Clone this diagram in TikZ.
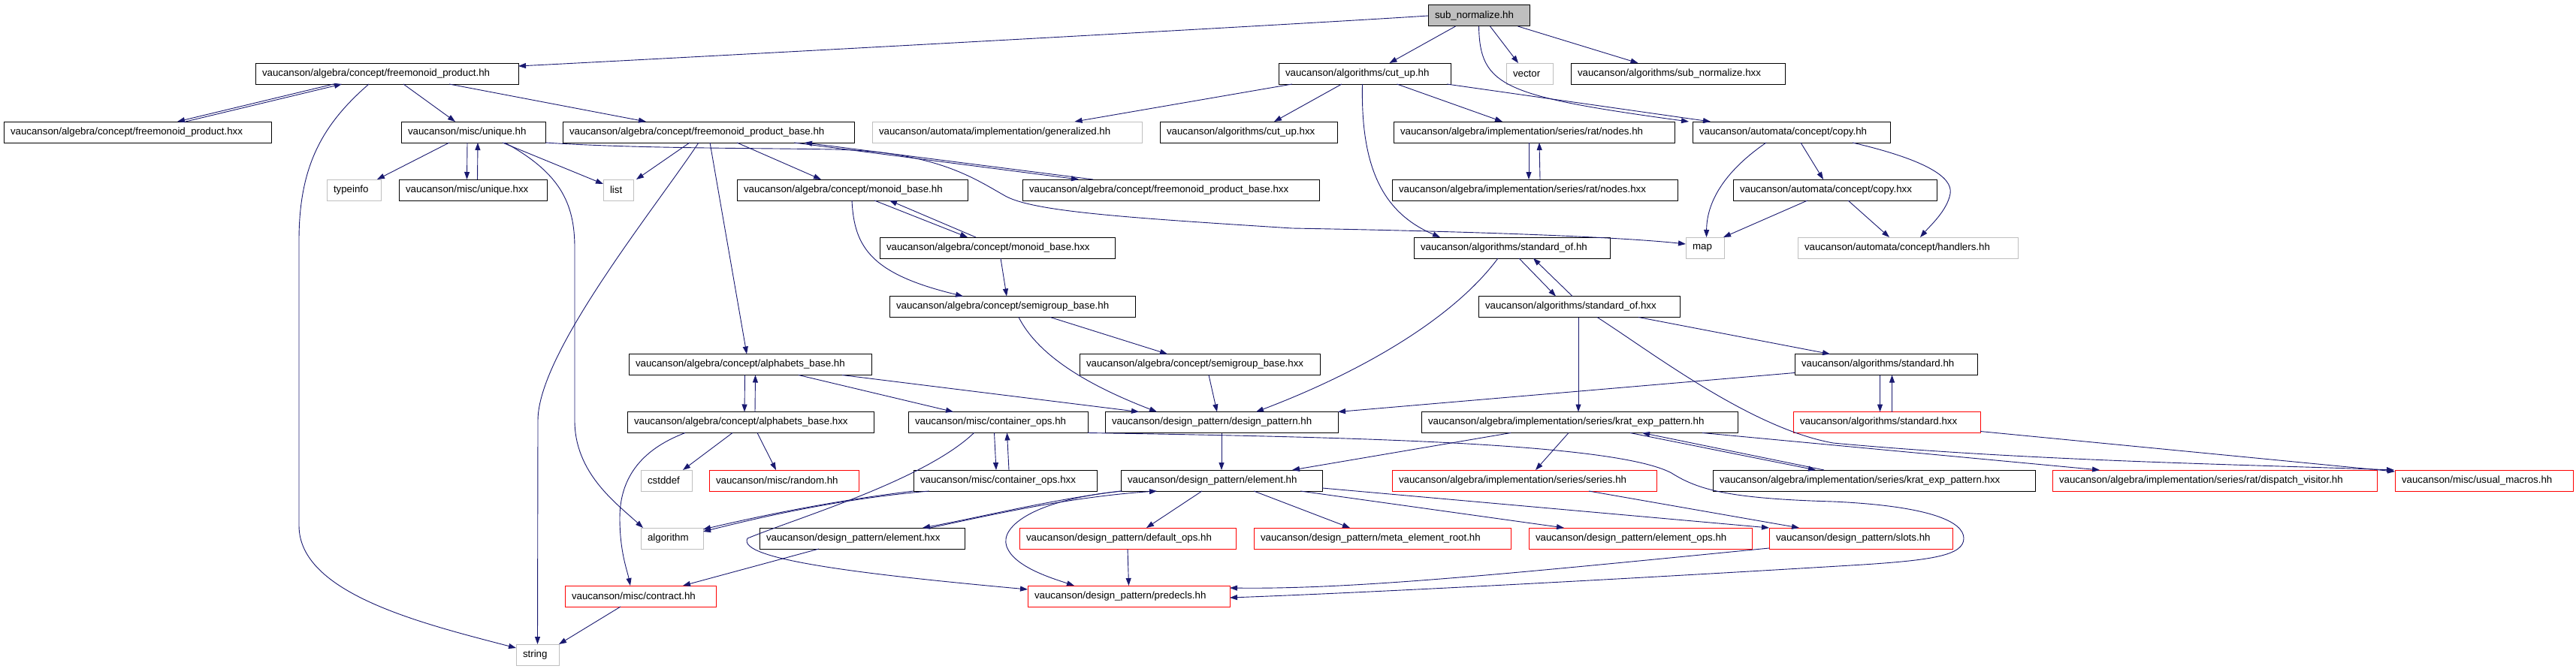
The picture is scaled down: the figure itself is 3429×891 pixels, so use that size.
\documentclass[tikz,border=0pt]{standalone}
\usepackage{fontspec}
\setmainfont{Liberation Sans}
\usetikzlibrary{arrows.meta}
\definecolor{edgeblue}{HTML}{191970}
\definecolor{sysgray}{HTML}{BFBFBF}
\begin{document}
\begin{tikzpicture}[x=1pt,y=-1pt,
    file/.style={draw,line width=1pt,minimum height=28pt,inner xsep=9pt,inner ysep=0pt,outer sep=0pt,anchor=west,align=left,font=\fontsize{13.3}{16}\selectfont},
    sys/.style={file,draw=sysgray},
    miss/.style={file,draw=red},
    dep/.style={draw=edgeblue,line width=.9pt,-{Triangle[length=10pt,width=7pt]}}]
        \useasboundingbox (0,0) rectangle (3429,891);
        % row 0 and 1
        \node[file,fill=sysgray,text width=117pt] (sn) at (1901,21) {sub\_normalize.hh};
        \node[file,text width=332pt] (fp) at (340,98) {vaucanson/algebra/concept/freemonoid\_product.hh};
        \node[file,text width=211pt] (cu) at (1702,98) {vaucanson/algorithms/cut\_up.hh};
        \node[sys,text width=44pt] (vec) at (2005,98) {vector};
        \node[file,text width=267pt] (snx) at (2091,98) {vaucanson/algorithms/sub\_normalize.hxx};
        % row 2
        \node[file,text width=338pt] (fpx) at (5,176) {vaucanson/algebra/concept/freemonoid\_product.hxx};
        \node[file,text width=174pt] (un) at (534,176) {vaucanson/misc/unique.hh};
        \node[file,text width=370pt] (fpb) at (749,176) {vaucanson/algebra/concept/freemonoid\_product\_base.hh};
        \node[sys,text width=341pt] (gen) at (1161,176) {vaucanson/automata/implementation/generalized.hh};
        \node[file,text width=218pt] (cux) at (1544,176) {vaucanson/algorithms/cut\_up.hxx};
        \node[file,text width=356pt] (nod) at (1855,176) {vaucanson/algebra/implementation/series/rat/nodes.hh};
        \node[file,text width=245pt] (cp) at (2253,176) {vaucanson/automata/concept/copy.hh};
        % row 3
        \node[sys,text width=54pt] (ti) at (435,253) {typeinfo};
        \node[file,text width=179pt] (unx) at (531,253) {vaucanson/misc/unique.hxx};
        \node[sys,text width=22pt] (lst) at (803,253) {list};
        \node[file,text width=289pt] (mb) at (981,253) {vaucanson/algebra/concept/monoid\_base.hh};
        \node[file,text width=377pt] (fpbx) at (1361,253) {vaucanson/algebra/concept/freemonoid\_product\_base.hxx};
        \node[file,text width=362pt] (nodx) at (1853,253) {vaucanson/algebra/implementation/series/rat/nodes.hxx};
        \node[file,text width=253pt] (cpx) at (2307,253) {vaucanson/automata/concept/copy.hxx};
        % row 4 and 5
        \node[file,text width=295pt] (mbx) at (1171,330) {vaucanson/algebra/concept/monoid\_base.hxx};
        \node[file,text width=243pt] (so) at (1882,330) {vaucanson/algorithms/standard\_of.hh};
        \node[sys,text width=33pt] (mp) at (2244,330) {map};
        \node[sys,text width=275pt] (hd) at (2393,330) {vaucanson/automata/concept/handlers.hh};
        \node[file,text width=309pt] (sg) at (1184,408.5) {vaucanson/algebra/concept/semigroup\_base.hh};
        \node[file,text width=250pt] (sox) at (1968,408.5) {vaucanson/algorithms/standard\_of.hxx};
        % row 6 and 7
        \node[file,text width=305pt] (ab) at (837,485.5) {vaucanson/algebra/concept/alphabets\_base.hh};
        \node[file,text width=302pt] (sgx) at (1437,485.5) {vaucanson/algebra/concept/semigroup\_base.hxx};
        \node[file,text width=225pt] (st) at (2389,485.5) {vaucanson/algorithms/standard.hh};
        \node[file,text width=310pt] (abx) at (835,562.5) {vaucanson/algebra/concept/alphabets\_base.hxx};
        \node[file,text width=221pt] (co) at (1209,562.5) {vaucanson/misc/container\_ops.hh};
        \node[file,text width=292pt] (dp) at (1471,562.5) {vaucanson/design\_pattern/design\_pattern.hh};
        \node[file,text width=403pt] (kep) at (1892,562.5) {vaucanson/algebra/implementation/series/krat\_exp\_pattern.hh};
        \node[miss,text width=231pt] (stx) at (2387,562.5) {vaucanson/algorithms/standard.hxx};
        % row 8
        \node[sys,text width=50pt] (cst) at (853,640) {cstddef};
        \node[miss,text width=181pt] (rnd) at (944,640) {vaucanson/misc/random.hh};
        \node[file,text width=226pt] (cox) at (1216,640) {vaucanson/misc/container\_ops.hxx};
        \node[file,text width=250pt] (el) at (1492,640) {vaucanson/design\_pattern/element.hh};
        \node[miss,text width=334pt] (ser) at (1853,640) {vaucanson/algebra/implementation/series/series.hh};
        \node[file,text width=411pt] (kepx) at (2280,640) {vaucanson/algebra/implementation/series/krat\_exp\_pattern.hxx};
        \node[miss,text width=414pt] (dv) at (2732,640) {vaucanson/algebra/implementation/series/rat/dispatch\_visitor.hh};
        \node[miss,text width=219pt] (um) at (3188,640) {vaucanson/misc/usual\_macros.hh};
        % row 9, 10 and 11
        \node[sys,text width=65pt] (alg) at (853,717) {algorithm};
        \node[file,text width=255pt] (elx) at (1011,717) {vaucanson/design\_pattern/element.hxx};
        \node[miss,text width=270pt] (dop) at (1357,717) {vaucanson/design\_pattern/default\_ops.hh};
        \node[miss,text width=324pt] (mer) at (1669,717) {vaucanson/design\_pattern/meta\_element\_root.hh};
        \node[miss,text width=279pt] (eop) at (2035,717) {vaucanson/design\_pattern/element\_ops.hh};
        \node[miss,text width=226pt] (sl) at (2355,717) {vaucanson/design\_pattern/slots.hh};
        \node[miss,text width=183pt] (ct) at (752,794) {vaucanson/misc/contract.hh};
        \node[miss,text width=251pt] (pd) at (1368,794) {vaucanson/design\_pattern/predecls.hh};
        \node[sys,text width=39pt] (str) at (687,872) {string};
        % sub_normalize.hh
        \draw[dep] (sn.west) .. controls (1720,33) and (870,79) .. ([yshift=-4pt]fp.north east);
        \draw[dep] ([xshift=-31pt]sn.south) -- ([xshift=33pt]cu.north);
        \draw[dep] ([xshift=15pt]sn.south) -- ([xshift=-15pt]vec.north);
        \draw[dep] ([xshift=52pt]sn.south) -- ([xshift=-53pt]snx.north);
        \draw[dep] (sn.south) .. controls (1970,115) and (2000,128) .. ([xshift=-5pt]cp.north west);
        % cut_up.hh
        \draw[dep] ([xshift=-5pt]cu.south east) -- ([xshift=24pt]cp.north west);
        \draw[dep] ([xshift=18pt]cu.south west) -- ([xshift=90pt]gen.north);
        \draw[dep] ([xshift=84pt]cu.south west) -- ([xshift=34pt]cux.north);
        \draw[dep] ([xshift=43pt]cu.south) -- ([xshift=-42pt]nod.north);
        \draw[dep] ([xshift=-3pt]cu.south) .. controls (1811,230) and (1845,285) .. ([xshift=35pt]so.north west);
        \draw[dep] ([xshift=-7pt]nod.south) -- ([xshift=-8pt]nodx.north);
        \draw[dep] ([xshift=7pt]nodx.north) -- ([xshift=7pt]nod.south);
        % copy
        \draw[dep] ([xshift=98pt]cp.south west) .. controls (2300,225) and (2272,265) .. ([xshift=2pt]mp.north);
        \draw[dep] ([xshift=144pt]cp.south west) -- ([xshift=120pt]cpx.north west);
        \draw[dep] ([xshift=-50pt]cp.south east) .. controls (2560,212) and (2600,235) .. (2596,258) .. controls (2592,280) and (2570,300) .. ([xshift=-130pt]hd.north east);
        \draw[dep] ([xshift=99pt]cpx.south west) -- ([xshift=-1pt]mp.north east);
        \draw[dep] ([xshift=153pt]cpx.south west) -- ([xshift=122pt]hd.north west);
        % freemonoid_product.hh
        \draw[dep] ([xshift=104pt]fp.south west) -- ([xshift=231pt]fpx.north west);
        \draw[dep] ([xshift=242pt]fpx.north west) -- ([xshift=115pt]fp.south west);
        \draw[dep] ([xshift=197pt]fp.south west) -- ([xshift=72pt]un.north west);
        \draw[dep] ([xshift=258pt]fp.south west) -- ([xshift=111pt]fpb.north west);
        \draw[dep] ([xshift=151pt]fp.south west) .. controls (430,165) and (398,220) .. (398,320) -- (398,700) .. controls (398,790) and (560,830) .. ([yshift=-5pt]str.north west);
        % unique.hh
        \draw[dep] ([xshift=64pt]un.south west) -- ([xshift=-5pt]ti.north east);
        \draw[dep] ([xshift=-8pt]un.south) -- ([xshift=-8pt]unx.north);
        \draw[dep] ([xshift=6pt]unx.north) -- ([xshift=6pt]un.south);
        \draw[dep] ([xshift=135pt]un.south west) -- ([yshift=-6pt]lst.north west);
        \draw[dep] ([xshift=138pt]un.south west) .. controls (745,230) and (765,270) .. (765,330) -- (765,560) .. controls (765,630) and (820,670) .. ([xshift=3pt]alg.north west);
        \draw[dep] (un.south east) .. controls (850,198) and (1000,197) .. (1110,199) .. controls (1250,202) and (1300,240) .. (1340,262) .. controls (1380,282) and (1500,290) .. (1720,304) .. controls (1950,308) and (2150,315) .. ([yshift=5pt]mp.west);
        % freemonoid_product_base.hh
        \draw[dep] ([xshift=169pt]fpb.south west) -- ([xshift=4pt]lst.north east);
        \draw[dep] ([xshift=181pt]fpb.south west) .. controls (870,280) and (716,470) .. (716,560) -- (str.north);
        \draw[dep] ([xshift=196pt]fpb.south west) -- ([xshift=157pt]ab.north west);
        \draw[dep] ([xshift=232pt]fpb.south west) -- ([xshift=112pt]mb.north west);
        \draw[dep] ([xshift=308pt]fpb.south west) -- ([xshift=75pt]fpbx.north west);
        \draw[dep] ([xshift=94pt]fpbx.north west) -- ([xshift=322pt]fpb.south west);
        % monoid and semigroup
        \draw[dep] ([xshift=183pt]mb.south west) -- ([xshift=117pt]mbx.north west);
        \draw[dep] ([xshift=128pt]mbx.north west) -- ([xshift=203pt]mb.south west);
        \draw[dep] ([xshift=153pt]mb.south west) .. controls (1137,330) and (1160,365) .. ([xshift=98pt]sg.north west);
        \draw[dep] ([xshift=161pt]mbx.south west) -- ([xshift=156pt]sg.north west);
        \draw[dep] ([xshift=172pt]sg.south west) .. controls (1380,470) and (1440,510) .. ([xshift=69pt]dp.north west);
        \draw[dep] ([xshift=214pt]sg.south west) -- ([xshift=117pt]sgx.north west);
        \draw[dep] ([xshift=172pt]sgx.south west) -- ([xshift=149pt]dp.north west);
        % standard_of and standard
        \draw[dep] ([xshift=112pt]so.south west) .. controls (1930,430) and (1800,500) .. ([xshift=201pt]dp.north west);
        \draw[dep] ([xshift=140pt]so.south west) -- ([xshift=103pt]sox.north west);
        \draw[dep] ([xshift=125pt]sox.north west) -- ([xshift=159pt]so.south west);
        \draw[dep] ([xshift=133pt]sox.south west) -- ([xshift=209pt]kep.north west);
        \draw[dep] ([xshift=213pt]sox.south west) -- ([xshift=47pt]st.north west);
        \draw[dep] ([xshift=158pt]sox.south west) .. controls (2200,470) and (2330,570) .. (2440,590) .. controls (2700,614) and (3000,619) .. ([xshift=-1pt]um.north west);
        \draw[dep] ([yshift=3pt]st.south west) -- (dp.north east);
        \draw[dep] ([xshift=-8pt]st.south) -- ([xshift=-9pt]stx.north);
        \draw[dep] ([xshift=7pt]stx.north) -- ([xshift=8pt]st.south);
        \draw[dep] ([yshift=2pt]stx.south east) -- ([yshift=-2pt]um.north west);
        % krat_exp_pattern.hh
        \draw[dep] ([xshift=119pt]kep.south west) -- ([xshift=-40pt]el.north east);
        \draw[dep] ([xshift=196pt]kep.south west) -- ([xshift=191pt]ser.north west);
        \draw[dep] ([xshift=278pt]kep.south west) -- ([xshift=137pt]kepx.north west);
        \draw[dep] ([xshift=148pt]kepx.north west) -- ([xshift=294pt]kep.south west);
        \draw[dep] ([xshift=374pt]kep.south west) -- ([xshift=63pt]dv.north west);
        \draw[dep] ([xshift=262pt]ser.south west) -- ([xshift=40pt]sl.north west);
        % element.hh
        \draw[dep] (dp.south) -- (el.north);
        \draw[dep] ([yshift=4pt]el.south east) -- (sl.north west);
        \draw[dep] ([xshift=-29pt]el.south east) -- ([xshift=47pt]eop.north west);
        \draw[dep] ([xshift=177pt]el.south west) -- ([xshift=128pt]mer.north west);
        \draw[dep] ([xshift=108pt]el.south west) -- ([xshift=169pt]dop.north west);
        \draw[dep] (el.south west) .. controls (1400,665) and (1300,690) .. ([xshift=217pt]elx.north west);
        \draw[dep] ([xshift=227pt]elx.north west) .. controls (1310,688) and (1420,662) .. ([xshift=48pt]el.south west);
        \draw[dep] ([xshift=2pt]el.south west) .. controls (1380,665) and (1330,700) .. (1340,728) .. controls (1350,755) and (1400,770) .. ([xshift=62pt]pd.north west);
        \draw[dep] (dop.south) -- (pd.north);
        \draw[dep] ([yshift=1pt]sl.south west) .. controls (2000,765) and (1800,785) .. ([yshift=11pt]pd.east);
        % container_ops
        \draw[dep] (co.south east) .. controls (1800,582) and (2150,590) .. (2225,630) .. controls (2260,652) and (2300,664) .. (2440,668) .. controls (2570,674) and (2614,695) .. (2614,717) .. controls (2614,740) and (2570,746) .. (2480,752) .. controls (2100,775) and (1800,790) .. ([yshift=-2pt]pd.east);
        \draw[dep] ([xshift=-32pt]co.south) .. controls (1230,640) and (1060,690) .. (995,717) .. controls (980,745) and (1150,765) .. ([yshift=9pt]pd.west);
        \draw[dep] ([xshift=-5pt]co.south) -- ([xshift=-12pt]cox.north);
        \draw[dep] ([xshift=5pt]cox.north) -- ([xshift=12pt]co.south);
        \draw[dep] (cox.south west) .. controls (1100,668) and (1000,690) .. ([yshift=-2pt]alg.north east);
        \draw[dep] ([xshift=21pt]cox.south west) .. controls (1110,665) and (1000,692) .. ([yshift=-5pt]alg.north east);
        % alphabets_base
        \draw[dep] ([xshift=-7pt]ab.south) -- ([xshift=-8pt]abx.north);
        \draw[dep] ([xshift=6pt]abx.north) -- ([xshift=7pt]ab.south);
        \draw[dep] ([xshift=226pt]ab.south west) -- ([xshift=60pt]co.north west);
        \draw[dep] ([xshift=284pt]ab.south west) -- ([xshift=45pt]dp.north west);
        \draw[dep] ([xshift=140pt]abx.south west) -- ([xshift=-12pt]cst.north east);
        \draw[dep] ([xshift=173pt]abx.south west) -- ([xshift=89pt]rnd.north west);
        \draw[dep] ([xshift=77pt]abx.south west) .. controls (850,600) and (825,640) .. (825,690) .. controls (825,735) and (835,760) .. ([xshift=87pt]ct.north west);
        % contract.hh
        \draw[dep] ([xshift=79pt]elx.south west) -- ([xshift=-44pt]ct.north east);
        \draw[dep] ([xshift=74pt]ct.south west) -- (str.north east);
    \end{tikzpicture}
\end{document}
